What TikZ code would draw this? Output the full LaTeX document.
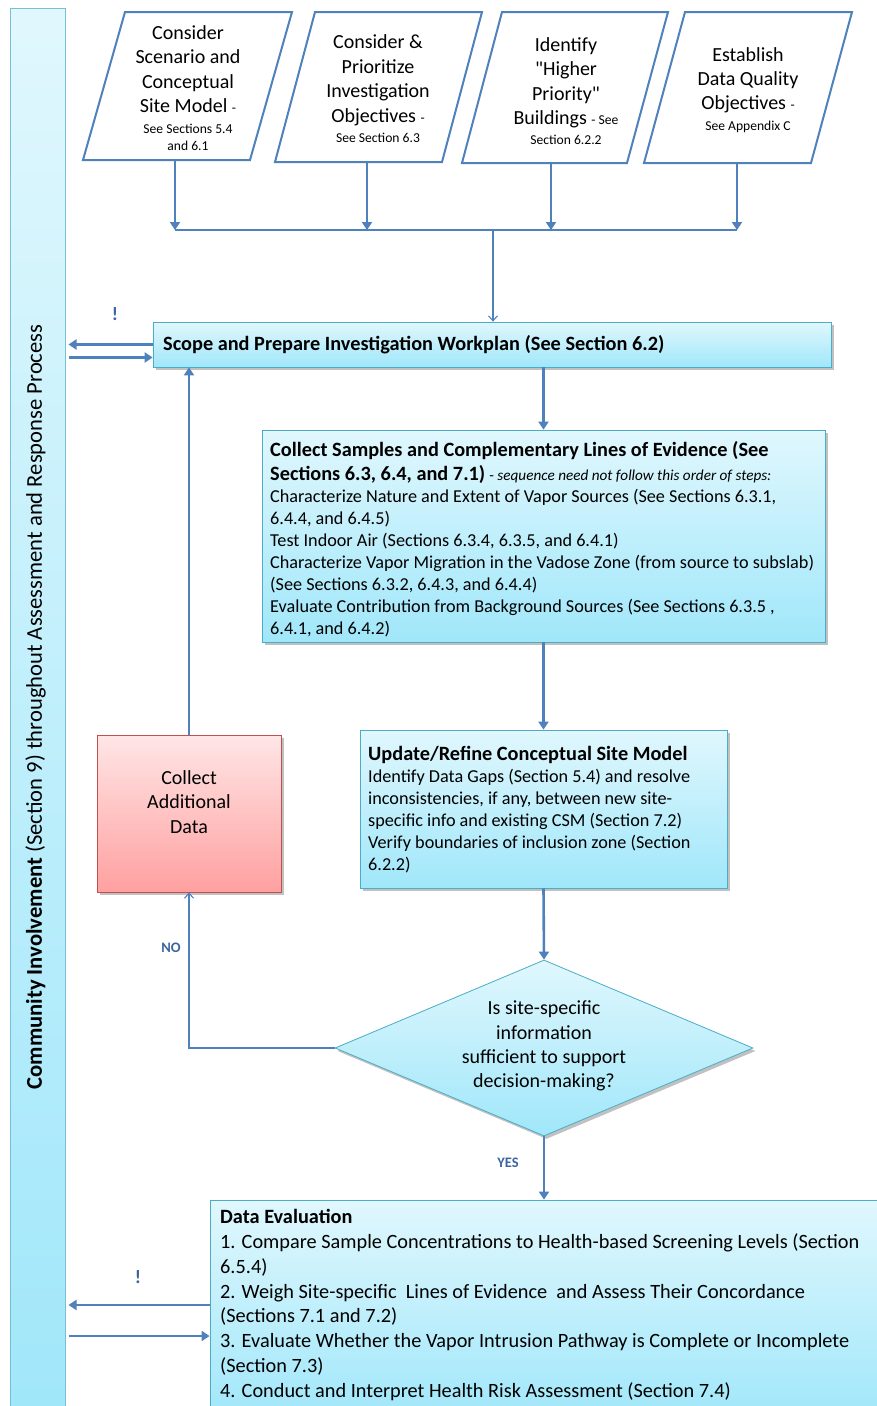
\documentclass[tikz,border=0pt]{standalone}
\usepackage{fontspec}
\setmainfont{Carlito}
\newfontfamily\qfont{Carlito}[Ligatures=TeXOff]
\usetikzlibrary{shapes.geometric,arrows.meta,shadows,calc}
\definecolor{lineblue}{RGB}{79,129,189}
\definecolor{boxborder}{RGB}{75,172,198}
\definecolor{cyantop}{RGB}{224,247,253}
\definecolor{cyanbot}{RGB}{160,231,250}
\definecolor{barborder}{RGB}{120,190,215}
\definecolor{pinktop}{RGB}{255,230,230}
\definecolor{pinkbot}{RGB}{255,160,160}
\definecolor{pinkborder}{RGB}{192,80,77}
\definecolor{labelblue}{RGB}{60,100,160}
\newcommand\fsbig{\fontsize{20}{24.4}\selectfont}
\newcommand\fsmid{\fontsize{18.2}{22}\selectfont}
\newcommand\fssmall{\fontsize{13.6}{16}\selectfont}
\newcommand\fstitle{\bfseries\fontsize{20.3}{24}\selectfont}
\begin{document}
\begin{tikzpicture}[x=1pt,y=-1pt,
  para/.style={draw=lineblue,line width=2pt,fill=white,line join=miter},
  paratext/.style={align=center,font=\fsbig,inner sep=0pt},
  cyanbox/.style={draw=boxborder,line width=0.8pt,top color=cyantop,bottom color=cyanbot,
     drop shadow={shadow xshift=2.5pt,shadow yshift=-3pt,opacity=0.35,fill=black!70},inner sep=0pt},
  pinkbox/.style={draw=pinkborder,line width=0.8pt,top color=pinktop,bottom color=pinkbot,
     drop shadow={shadow xshift=2.5pt,shadow yshift=-3pt,opacity=0.35,fill=black!70},inner sep=0pt},
  barbox/.style={draw=barborder,line width=1pt,top color=cyantop,bottom color=cyanbot,inner sep=0pt},
  thickarrow/.style={draw=lineblue,line width=2.6pt,-{Triangle[width=10pt,length=8pt]}},
  thinline/.style={draw=lineblue,line width=1.1pt},
  thinarrow/.style={draw=lineblue,line width=1.1pt,-{Straight Barb[width=9pt,length=5pt]}},
  lbl/.style={text=labelblue,font=\bfseries\fontsize{14.5}{16}\selectfont,inner sep=0pt},
  excl/.style={text=labelblue,font=\bfseries\fontsize{19}{22}\selectfont,inner sep=0pt}
]
\useasboundingbox (0,0) rectangle (877,1406);

% left bar
\node[barbox,minimum width=55pt,minimum height=1412pt] (bar) at (37.5,714) {};
\node[rotate=90,font=\fontsize{22.6}{26}\selectfont,inner sep=0pt] (bartext) at (35.5,707)
  {{\bfseries Community Involvement} (Section 9) throughout Assessment and Response Process};

% top parallelograms
\draw[para] (125,12) -- (292,12) -- (250,160) -- (83,160) -- cycle;
\draw[para] (315,12) -- (482,12) -- (442,162) -- (275,162) -- cycle;
\draw[para] (502,12) -- (668,12) -- (627,163) -- (462,163) -- cycle;
\draw[para] (685,12) -- (852,12) -- (811,163) -- (644,163) -- cycle;

\node[paratext] (p1) at (188,88) {Consider\\Scenario and\\Conceptual\\Site Model {\fssmall -}\\[-3.5pt]{\fssmall See Sections 5.4}\\[-7.5pt]{\fssmall and 6.1}};
\node[paratext] (p2) at (378,89) {Consider \&\\Prioritize\\Investigation\\Objectives {\fssmall -}\\[-3.5pt]{\fssmall See Section 6.3}};
\node[paratext] (p3) at (566,91) {Identify\\{\qfont "}Higher\\Priority{\qfont "}\\Buildings {\fssmall - See}\\[-4.5pt]{\fssmall Section 6.2.2}};
\node[paratext] (p4) at (748,90) {Establish\\Data Quality\\Objectives {\fssmall -}\\[-3.5pt]{\fssmall See Appendix C}};

\coordinate (p1b) at (175,161);
\coordinate (p2b) at (367,163);
\coordinate (p3b) at (551,164);
\coordinate (p4b) at (737,164);
\coordinate (j1) at (175,230);
\coordinate (j2) at (367,230);
\coordinate (j3) at (551,230);
\coordinate (j4) at (737,230);
\coordinate (jm) at (493,230);

\draw[thickarrow] (p1b) -- (j1);
\draw[thickarrow] (p2b) -- (j2);
\draw[thickarrow] (p3b) -- (j3);
\draw[thickarrow] (p4b) -- (j4);
\draw[thinline] (j1) -- (j4);

% scope box
\node[cyanbox,minimum width=678pt,minimum height=45pt] (scope) at (492,344.5) {};
\node[anchor=west,font=\fstitle,inner sep=0pt] (scopetext) at (163,345) {Scope and Prepare Investigation Workplan (See Section 6.2)};
\draw[thinarrow] (jm) -- (jm |- scope.north);

% collect samples box
\node[cyanbox,minimum width=563pt,minimum height=212pt] (collect) at (543.5,536) {};
\node[anchor=west,align=left,font=\fsmid,inner sep=0pt] (collecttext) at (270,539)
 {{\fstitle Collect Samples and Complementary Lines of Evidence (See}\\[2pt]
  {\fstitle Sections 6.3, 6.4, and 7.1)} {\fontsize{15.2}{17}\selectfont - \itshape sequence need not follow this order of steps:}\\
  Characterize Nature and Extent of Vapor Sources (See Sections 6.3.1,\\
  6.4.4, and 6.4.5)\\
  Test Indoor Air (Sections 6.3.4, 6.3.5, and 6.4.1)\\
  Characterize Vapor Migration in the Vadose Zone (from source to subslab)\\
  (See Sections 6.3.2, 6.4.3, and 6.4.4)\\
  Evaluate Contribution from Background Sources (See Sections 6.3.5 ,\\
  6.4.1, and 6.4.2)};
\draw[thickarrow] (collect.north |- scope.south) -- (collect.north);

% update box
\node[cyanbox,minimum width=367pt,minimum height=158pt] (update) at (543.5,809) {};
\node[anchor=west,align=left,font=\fsmid,inner sep=0pt] (updatetext) at (368,810)
 {{\fstitle Update/Refine Conceptual Site Model}\\
  Identify Data Gaps (Section 5.4) and resolve\\
  inconsistencies, if any, between new site-\\
  specific info and existing CSM (Section 7.2)\\
  Verify boundaries of inclusion zone (Section\\
  6.2.2)};
\draw[thickarrow] (collect.south) -- (update.north);

% collect additional data
\node[pinkbox,minimum width=184pt,minimum height=157pt] (cad) at (189,813.5) {};
\node[align=center,font=\fsbig,inner sep=0pt] (cadtext) at (189,802) {Collect\\Additional\\Data};
\draw[thickarrow] (cad.north) -- (cad.north |- scope.south);

% diamond
\node[diamond,draw=boxborder,line width=0.8pt,top color=cyantop,bottom color=cyanbot,
  drop shadow={shadow xshift=2.5pt,shadow yshift=-3pt,opacity=0.35,fill=black!70},
  minimum width=418pt,minimum height=176pt,inner sep=0pt] (dia) at (544,1048) {};
\node[align=center,font=\fsbig,inner sep=0pt] (diatext) at (544,1046)
 {Is site-specific\\information\\sufficient to support\\decision-making?};
\draw[thickarrow] (update.south) -- (dia.north);
\draw[thinarrow] (dia.west) -- (dia.west -| cad.south) -- (cad.south);
\node[lbl] (no) at (171,948) {NO};

% data evaluation
\node[cyanbox,minimum width=690pt,minimum height=220pt] (deval) at (555,1310) {};
\node[anchor=west,align=left,font=\fontsize{20.3}{24.8}\selectfont,inner sep=0pt] (devaltext) at (220,1305)
 {{\bfseries Data Evaluation}\\
  1. Compare Sample Concentrations to Health-based Screening Levels (Section\\
  6.5.4)\\
  2. Weigh Site-specific\ \ Lines of Evidence\ \ and Assess Their Concordance\\
  (Sections 7.1 and 7.2)\\
  3. Evaluate Whether the Vapor Intrusion Pathway is Complete or Incomplete\\
  (Section 7.3)\\
  4. Conduct and Interpret Health Risk Assessment (Section 7.4)};
\draw[thickarrow] (dia.south) -- (dia.south |- deval.north);
\node[lbl] (yes) at (508,1163) {YES};

% side arrows
\draw[thickarrow,shorten >=3pt] (scope.west) -- (scope.west -| bar.east);
\draw[thickarrow] ($(scope.west -| bar.east)+(3,13)$) -- ($(scope.west)+(0,13)$);
\node[excl] (ex1) at (115,314) {!};
\draw[thickarrow,shorten >=3pt] ($(deval.west)+(0,-5)$) -- ($(deval.west -| bar.east)+(0,-5)$);
\draw[thickarrow] ($(deval.west -| bar.east)+(3,26)$) -- ($(deval.west)+(0,26)$);
\node[excl] (ex2) at (138,1277) {!};
\end{tikzpicture}
\end{document}
